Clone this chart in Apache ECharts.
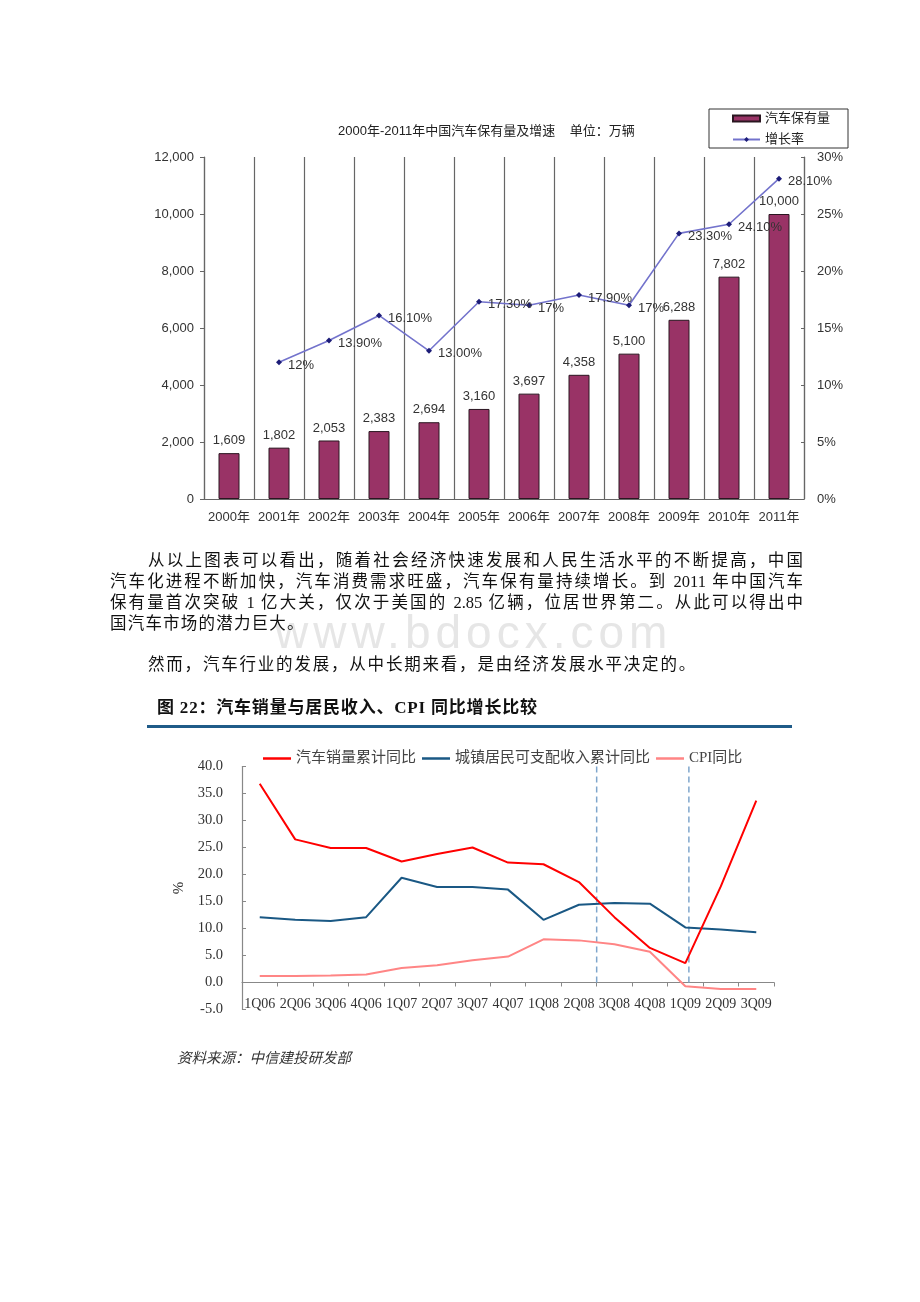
<!DOCTYPE html>
<html>
<head>
<meta charset="utf-8">
<script src="https://cdn.jsdelivr.net/npm/echarts@6/dist/echarts.min.js"></script>
<style>
  html, body { margin: 0; padding: 0; background: #fff; }
  #page { position: relative; width: 920px; height: 1302px; overflow: hidden; }
  #chart { position: absolute; left: 0; top: 0; width: 920px; height: 1302px; z-index: 0; }
  .t { position: absolute; white-space: nowrap; z-index: 2; color: #111;
       font-family: "Liberation Serif", "Noto Sans CJK SC", serif; }
  .p { font-size: 16.5px; line-height: 21px; height: 21px; }
  .j { text-align: justify; text-align-last: justify; }
  .wm { position: absolute; z-index: 1; left: 275px; top: 609px; font-family: "Liberation Sans", Arial, sans-serif;
        font-size: 46px; line-height: 46px; letter-spacing: 5px; color: #e6e6e6; white-space: nowrap; }
</style>
</head>
<body>
<div id="page">
  <div id="chart"></div>
  <div class="wm">www.bdocx.com</div>
  <div class="t p j" style="left:148px; top:549.5px; width:655px;">从以上图表可以看出，随着社会经济快速发展和人民生活水平的不断提高，中国</div>
  <div class="t p j" style="left:110px; top:570.5px; width:693px;">汽车化进程不断加快，汽车消费需求旺盛，汽车保有量持续增长。到 2011 年中国汽车</div>
  <div class="t p j" style="left:110px; top:591.5px; width:693px;">保有量首次突破 1 亿大关，仅次于美国的 2.85 亿辆，位居世界第二。从此可以得出中</div>
  <div class="t p" style="left:110px; top:612.5px; letter-spacing:1.2px;">国汽车市场的潜力巨大。</div>
  <div class="t p" style="left:148px; top:653.5px; letter-spacing:1.8px;">然而，汽车行业的发展，从中长期来看，是由经济发展水平决定的。</div>
  <div class="t" style="left:157px; top:697px; font-size:17px; line-height:22px; font-weight:bold; letter-spacing:0.8px;">图 22：汽车销量与居民收入、CPI 同比增长比较</div>
  <div style="position:absolute; left:147px; top:725px; width:645px; height:3px; background:#1f5b88; z-index:2;"></div>
  <div class="t" style="left:177px; top:1048px; font-size:14.5px; line-height:20px; font-style:italic; color:#333;">资料来源：中信建投研发部</div>
</div>
<script>
// ---------- Chart 1 data ----------
var years = ['2000年','2001年','2002年','2003年','2004年','2005年','2006年','2007年','2008年','2009年','2010年','2011年'];
var carStock = [1609, 1802, 2053, 2383, 2694, 3160, 3697, 4358, 5100, 6288, 7802, 10000];
var growthRate = [null, 12, 13.9, 16.1, 13.0, 17.3, 17, 17.9, 17, 23.3, 24.1, 28.1];
var growthLabels = ['', '12%', '13.90%', '16.10%', '13.00%', '17.30%', '17%', '17.90%', '17%', '23.30%', '24.10%', '28.10%'];
var chart1Title = '2000年-2011年中国汽车保有量及增速    单位：万辆';

// ---------- Chart 2 data ----------
var quarters = ['1Q06','2Q06','3Q06','4Q06','1Q07','2Q07','3Q07','4Q07','1Q08','2Q08','3Q08','4Q08','1Q09','2Q09','3Q09'];
var carSalesYoY = [36.8, 26.5, 24.9, 24.9, 22.4, 23.8, 25.0, 22.2, 21.9, 18.6, 12.1, 6.4, 3.6, 17.8, 33.7];
var incomeYoY   = [12.1, 11.6, 11.4, 12.1, 19.4, 17.7, 17.7, 17.2, 11.6, 14.4, 14.7, 14.6, 10.2, 9.8, 9.3];
var cpiYoY      = [1.2, 1.2, 1.3, 1.5, 2.7, 3.2, 4.1, 4.8, 8.0, 7.8, 7.1, 5.7, -0.7, -1.2, -1.2];
var dividerPos  = [10, 12.6];   // in category units along the quarter axis
var dividerSpan = [0, 40];
var seriesNames2 = ['汽车销量累计同比', '城镇居民可支配收入累计同比', 'CPI同比'];

var sans = '"Liberation Sans", Arial, "Noto Sans CJK SC", sans-serif';
var serif = '"Liberation Serif", "Noto Sans CJK SC", serif';

var chart = echarts.init(document.getElementById('chart'), null, {renderer: 'canvas'});

var dividerSeries = dividerPos.map(function (p) {
  return {
    type: 'line', xAxisIndex: 2, yAxisIndex: 2, silent: true,
    data: dividerSpan.map(function (v) { return [p, v]; }),
    symbol: 'none',
    lineStyle: { color: '#7fa6cc', width: 1.5, type: [6, 4] },
    z: 1
  };
});

var option = {
  animation: false,
  graphic: [{
    type: 'text', left: 490 - 152, top: 125,
    style: { text: chart1Title, font: '13px ' + sans, fill: '#222' }
  }],
  legend: [{
    left: 709, top: 109, orient: 'vertical',
    borderColor: '#333', borderWidth: 1,
    padding: [3, 18, 2, 23], itemGap: 8,
    itemWidth: 27, itemHeight: 6,
    textStyle: { fontFamily: sans, fontSize: 13, color: '#222', padding: [0, 0, 0, 0] },
    data: [{ name: '汽车保有量', icon: 'rect' }, { name: '增长率' }]
  }, {
    left: 258, top: 746, itemGap: 6, itemWidth: 28, itemHeight: 2.5,
    textStyle: { fontFamily: serif, fontSize: 15, color: '#444' },
    data: seriesNames2.map(function (n) { return { name: n, icon: 'rect' }; })
  }],
  grid: [
    { left: 204, right: 116, top: 157, bottom: 803 },
    { left: 242, right: 146, top: 766.5, bottom: 292.5 }
  ],
  xAxis: [{
    type: 'category', gridIndex: 0, data: years,
    axisLine: { lineStyle: { color: '#666', width: 1.2 } },
    axisTick: { show: false },
    splitLine: { show: true, interval: 0, lineStyle: { color: '#666', width: 1.2 } },
    axisLabel: { interval: 0, fontFamily: sans, fontSize: 13, color: '#333', margin: 12 }
  }, {
    type: 'category', gridIndex: 1, data: quarters,
    axisLine: { onZero: true, lineStyle: { color: '#888', width: 1.2 } },
    axisTick: { show: true, length: 4, interval: 0, lineStyle: { color: '#888' } },
    splitLine: { show: false },
    axisLabel: { interval: 0, fontFamily: serif, fontSize: 14, color: '#333', margin: -12 }
  }, {
    type: 'value', gridIndex: 1, min: 0, max: quarters.length, show: false
  }],
  yAxis: [{
    type: 'value', gridIndex: 0, min: 0, max: 12000, interval: 2000,
    axisLine: { show: true, lineStyle: { color: '#666', width: 1.2 } },
    axisTick: { show: true, length: 4, lineStyle: { color: '#666' } },
    splitLine: { show: false },
    axisLabel: { fontFamily: sans, fontSize: 13, color: '#333', margin: 10,
      formatter: function (v) { return v.toLocaleString('en-US'); } }
  }, {
    type: 'value', gridIndex: 0, position: 'right', min: 0, max: 30, interval: 5,
    axisLine: { show: true, lineStyle: { color: '#666', width: 1.2 } },
    axisTick: { show: true, inside: true, length: 3, lineStyle: { color: '#666' } },
    splitLine: { show: false },
    axisLabel: { fontFamily: sans, fontSize: 13, color: '#333', margin: 13, formatter: '{value}%' }
  }, {
    type: 'value', gridIndex: 1, min: -5, max: 40, interval: 5,
    name: '%', nameLocation: 'middle', nameGap: 55, nameRotate: 90,
    nameTextStyle: { fontFamily: serif, fontSize: 15, color: '#333' },
    axisLine: { show: true, onZero: false, lineStyle: { color: '#888', width: 1.2 } },
    axisTick: { show: true, inside: true, length: 4, lineStyle: { color: '#888' } },
    splitLine: { show: false },
    axisLabel: { fontFamily: serif, fontSize: 14.5, color: '#333', margin: 19,
      formatter: function (v) { return v.toFixed(1); } }
  }],
  series: [{
    name: '汽车保有量', type: 'bar', xAxisIndex: 0, yAxisIndex: 0,
    data: carStock, barWidth: 21,
    itemStyle: { color: '#993366', borderColor: '#2a1620', borderWidth: 1 },
    label: { show: true, position: 'top', distance: 6, fontFamily: sans, fontSize: 13, color: '#333',
      formatter: function (p) { return p.value.toLocaleString('en-US'); } },
    z: 2
  }, {
    name: '增长率', type: 'line', xAxisIndex: 0, yAxisIndex: 1,
    data: growthRate,
    symbol: 'diamond', symbolSize: 6,
    itemStyle: { color: '#1c1c78' },
    lineStyle: { color: '#7373cc', width: 1.6 },
    label: { show: true, position: 'right', distance: 6, offset: [0, 3],
      fontFamily: sans, fontSize: 13, color: '#333',
      formatter: function (p) { return growthLabels[p.dataIndex]; } },
    z: 3
  }, {
    name: seriesNames2[0], type: 'line', xAxisIndex: 1, yAxisIndex: 2,
    data: carSalesYoY, symbol: 'none',
    itemStyle: { color: '#ff0000' }, lineStyle: { color: '#ff0000', width: 2 }, z: 4
  }, {
    name: seriesNames2[1], type: 'line', xAxisIndex: 1, yAxisIndex: 2,
    data: incomeYoY, symbol: 'none',
    itemStyle: { color: '#1a5884' }, lineStyle: { color: '#1a5884', width: 2 }, z: 3
  }, {
    name: seriesNames2[2], type: 'line', xAxisIndex: 1, yAxisIndex: 2,
    data: cpiYoY, symbol: 'none',
    itemStyle: { color: '#ff8585' }, lineStyle: { color: '#ff8585', width: 2 }, z: 2
  }].concat(dividerSeries)
};
chart.setOption(option);
</script>
</body>
</html>
